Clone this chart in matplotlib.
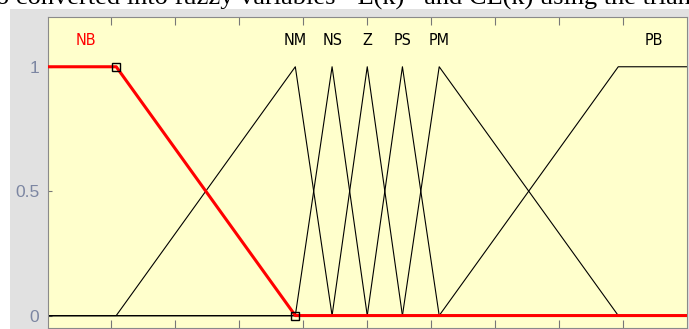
import numpy as np
import matplotlib.pyplot as plt
from matplotlib.patches import Rectangle

# Membership functions (breakpoints on the normalised universe [-1, 1])
x_range = [-1.0, 1.0]
mf_names = ['NB', 'NM', 'NS', 'Z', 'PS', 'PM', 'PB']
mf_x = [
    [-1.0, -0.785, -0.225],
    [-0.785, -0.225, -0.11],
    [-0.225, -0.11, 0.0],
    [-0.11, 0.0, 0.11],
    [0.0, 0.11, 0.225],
    [0.11, 0.225, 0.785],
    [0.225, 0.785, 1.0],
]
mf_y = [
    [1, 1, 0],
    [0, 1, 0],
    [0, 1, 0],
    [0, 1, 0],
    [0, 1, 0],
    [0, 1, 0],
    [0, 1, 1],
]
label_x = [-0.88, -0.225, -0.11, 0.0, 0.11, 0.225, 0.895]
selected = 'NB'
x_ticks = [-0.8, -0.6, -0.4, -0.2, 0.0, 0.2, 0.4, 0.6, 0.8]
y_ticks = [0, 0.5, 1]
y_ticklabels = ['0', '0.5', '1']

W, H = 689, 329
fig = plt.figure(figsize=(W / 100, H / 100), dpi=100)
fig.patch.set_facecolor('white')
fig.patches.append(Rectangle((10 / W, 0), 1, (H - 9) / H, transform=fig.transFigure,
                             facecolor='#e1e1e1', edgecolor='none', zorder=-10))

# caption line of the surrounding document, cropped at the top
fig.text(-4 / W, 1 - 5 / H,
         'o converted into fuzzy variables  \u2018E(k)\u2019  and CE(k) using the trian',
         family='Liberation Serif', fontsize=19, va='baseline', ha='left')

ax = fig.add_axes([47.5 / W, 1 / H, (687 - 47.5) / W, (328 - 17) / H])
ax.set_facecolor('#ffffcc')

xs = np.linspace(x_range[0], x_range[1], 801)
for name, px, py in zip(mf_names, mf_x, mf_y):
    if name == selected:
        continue
    ax.plot(xs, np.interp(xs, px, py), color='black', lw=0.8, zorder=2)

i = mf_names.index(selected)
ax.plot(xs, np.interp(xs, mf_x[i], mf_y[i]), color='red', lw=2.2, zorder=3)
ax.plot(mf_x[i][1:], mf_y[i][1:], ls='none', marker='s', ms=6,
        mfc='none', mec='black', mew=1.0, zorder=4)

for name, lx in zip(mf_names, label_x):
    ax.text(lx, 1.105, name, ha='center', va='center', fontsize=11.5,
            family='DejaVu Sans', fontstretch='condensed',
            color='red' if name == selected else 'black')

ax.set_xlim(x_range)
ax.set_ylim(-0.05, 1.2)
ax.set_xticks(x_ticks)
ax.set_yticks(y_ticks)
ax.set_yticklabels(y_ticklabels)
ax.tick_params(axis='x', direction='in', top=True, bottom=True,
               labelbottom=False, length=6, color='#777777')
ax.tick_params(axis='y', direction='in', length=3, color='#777777',
               labelsize=12.5, labelcolor='#7c86a2', pad=6)
for lab in ax.get_yticklabels():
    lab.set_family('Liberation Sans')
for sp in ax.spines.values():
    sp.set_color('#8a8a8a')

fig.savefig('out.png', dpi=100)
